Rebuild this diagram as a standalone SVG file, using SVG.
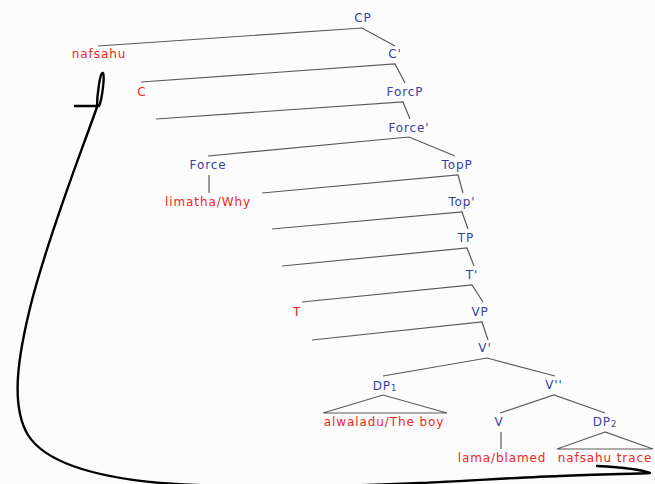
<svg xmlns="http://www.w3.org/2000/svg" width="655" height="484" viewBox="0 0 655 484">
  <style>
    text { font-family: "DejaVu Sans", "Liberation Sans", sans-serif; font-size: 12px; letter-spacing: 0.9px; text-anchor: middle; }
    .cat { fill: #3a3fa6; }
    .word { fill: #ee2620; }
    .edge { stroke: #5a5a5a; stroke-width: 1.2; fill: none; }
    .ink { stroke: #000; stroke-width: 2.4; fill: none; stroke-linecap: round; stroke-linejoin: round; }
  </style>
  <rect width="655" height="484" fill="#fcfcfc"/>

  <!-- tree branches -->
  <g id="connectors">
    <polyline class="edge" points="98,46 362,28 395,46"/>
    <polyline class="edge" points="141,82 395,64 405,83"/>
    <polyline class="edge" points="156,119 403,102 410,119"/>
    <polyline class="edge" points="208,156 409,137 455,156"/>
    <line class="edge" x1="209" y1="175" x2="209" y2="193"/>
    <polyline class="edge" points="262,193 458,175 463,193"/>
    <polyline class="edge" points="272,229 462,212 468,229"/>
    <polyline class="edge" points="282,266 467,248 474,266"/>
    <polyline class="edge" points="302,302 472,285 483,302"/>
    <polyline class="edge" points="312,340 482,322 488,340"/>
    <polyline class="edge" points="383,376 487,358 555,376"/>
    <polygon class="edge" points="383,395 323,413 447,413"/>
    <polyline class="edge" points="500,413 554,395 605,413"/>
    <line class="edge" x1="501" y1="432" x2="501" y2="449"/>
    <polygon class="edge" points="605,432 557,449 653,449"/>
  </g>

  <g id="n-CP"><text class="cat" x="363" y="22">CP</text></g>
  <g id="n-nafsahu"><text class="word" x="99" y="58">nafsahu</text></g>
  <g id="n-Cbar"><text class="cat" x="395" y="58">C'</text></g>
  <g id="n-C"><text class="word" x="142" y="96">C</text></g>
  <g id="n-ForcP"><text class="cat" x="405" y="96">ForcP</text></g>
  <g id="n-Forcebar"><text class="cat" x="409" y="132">Force'</text></g>
  <g id="n-Force"><text class="cat" x="208" y="169">Force</text></g>
  <g id="n-TopP"><text class="cat" x="457" y="169">TopP</text></g>
  <g id="n-limatha"><text class="word" x="208" y="206">limatha/Why</text></g>
  <g id="n-Topbar"><text class="cat" x="462" y="206">Top'</text></g>
  <g id="n-TP"><text class="cat" x="466" y="242">TP</text></g>
  <g id="n-Tbar"><text class="cat" x="472" y="279">T'</text></g>
  <g id="n-T"><text class="word" x="297" y="316">T</text></g>
  <g id="n-VP"><text class="cat" x="480" y="316">VP</text></g>
  <g id="n-Vbar"><text class="cat" x="485" y="352">V'</text></g>
  <g id="n-DP1"><text class="cat" x="385" y="390">DP<tspan font-size="8.5" dy="1">1</tspan></text></g>
  <g id="n-Vbarbar"><text class="cat" x="554" y="389">V''</text></g>
  <g id="n-alwaladu"><text class="word" x="384" y="426">alwaladu/The boy</text></g>
  <g id="n-V"><text class="cat" x="499" y="426">V</text></g>
  <g id="n-DP2"><text class="cat" x="605" y="426">DP<tspan font-size="8.5" dy="1">2</tspan></text></g>
  <g id="n-lama"><text class="word" x="502" y="462">lama/blamed</text></g>
  <g id="n-trace"><text class="word" x="605" y="462">nafsahu trace</text></g>

  <!-- hand-drawn movement line from the trace up to nafsahu -->
  <g id="movement">
    <path class="ink" d="M 75 106 L 99 106 C 102 100 105 76 103 73 C 100 71 97 96 97 107 C 82 150 52 225 32 300 C 18 355 10 405 28 435 C 45 462 95 477 160 483 C 230 488 330 487 420 483 C 480 480 530 477 560 476 C 600 474 635 474 650 473 C 640 469 615 467 597 466"/>
  </g>
</svg>
